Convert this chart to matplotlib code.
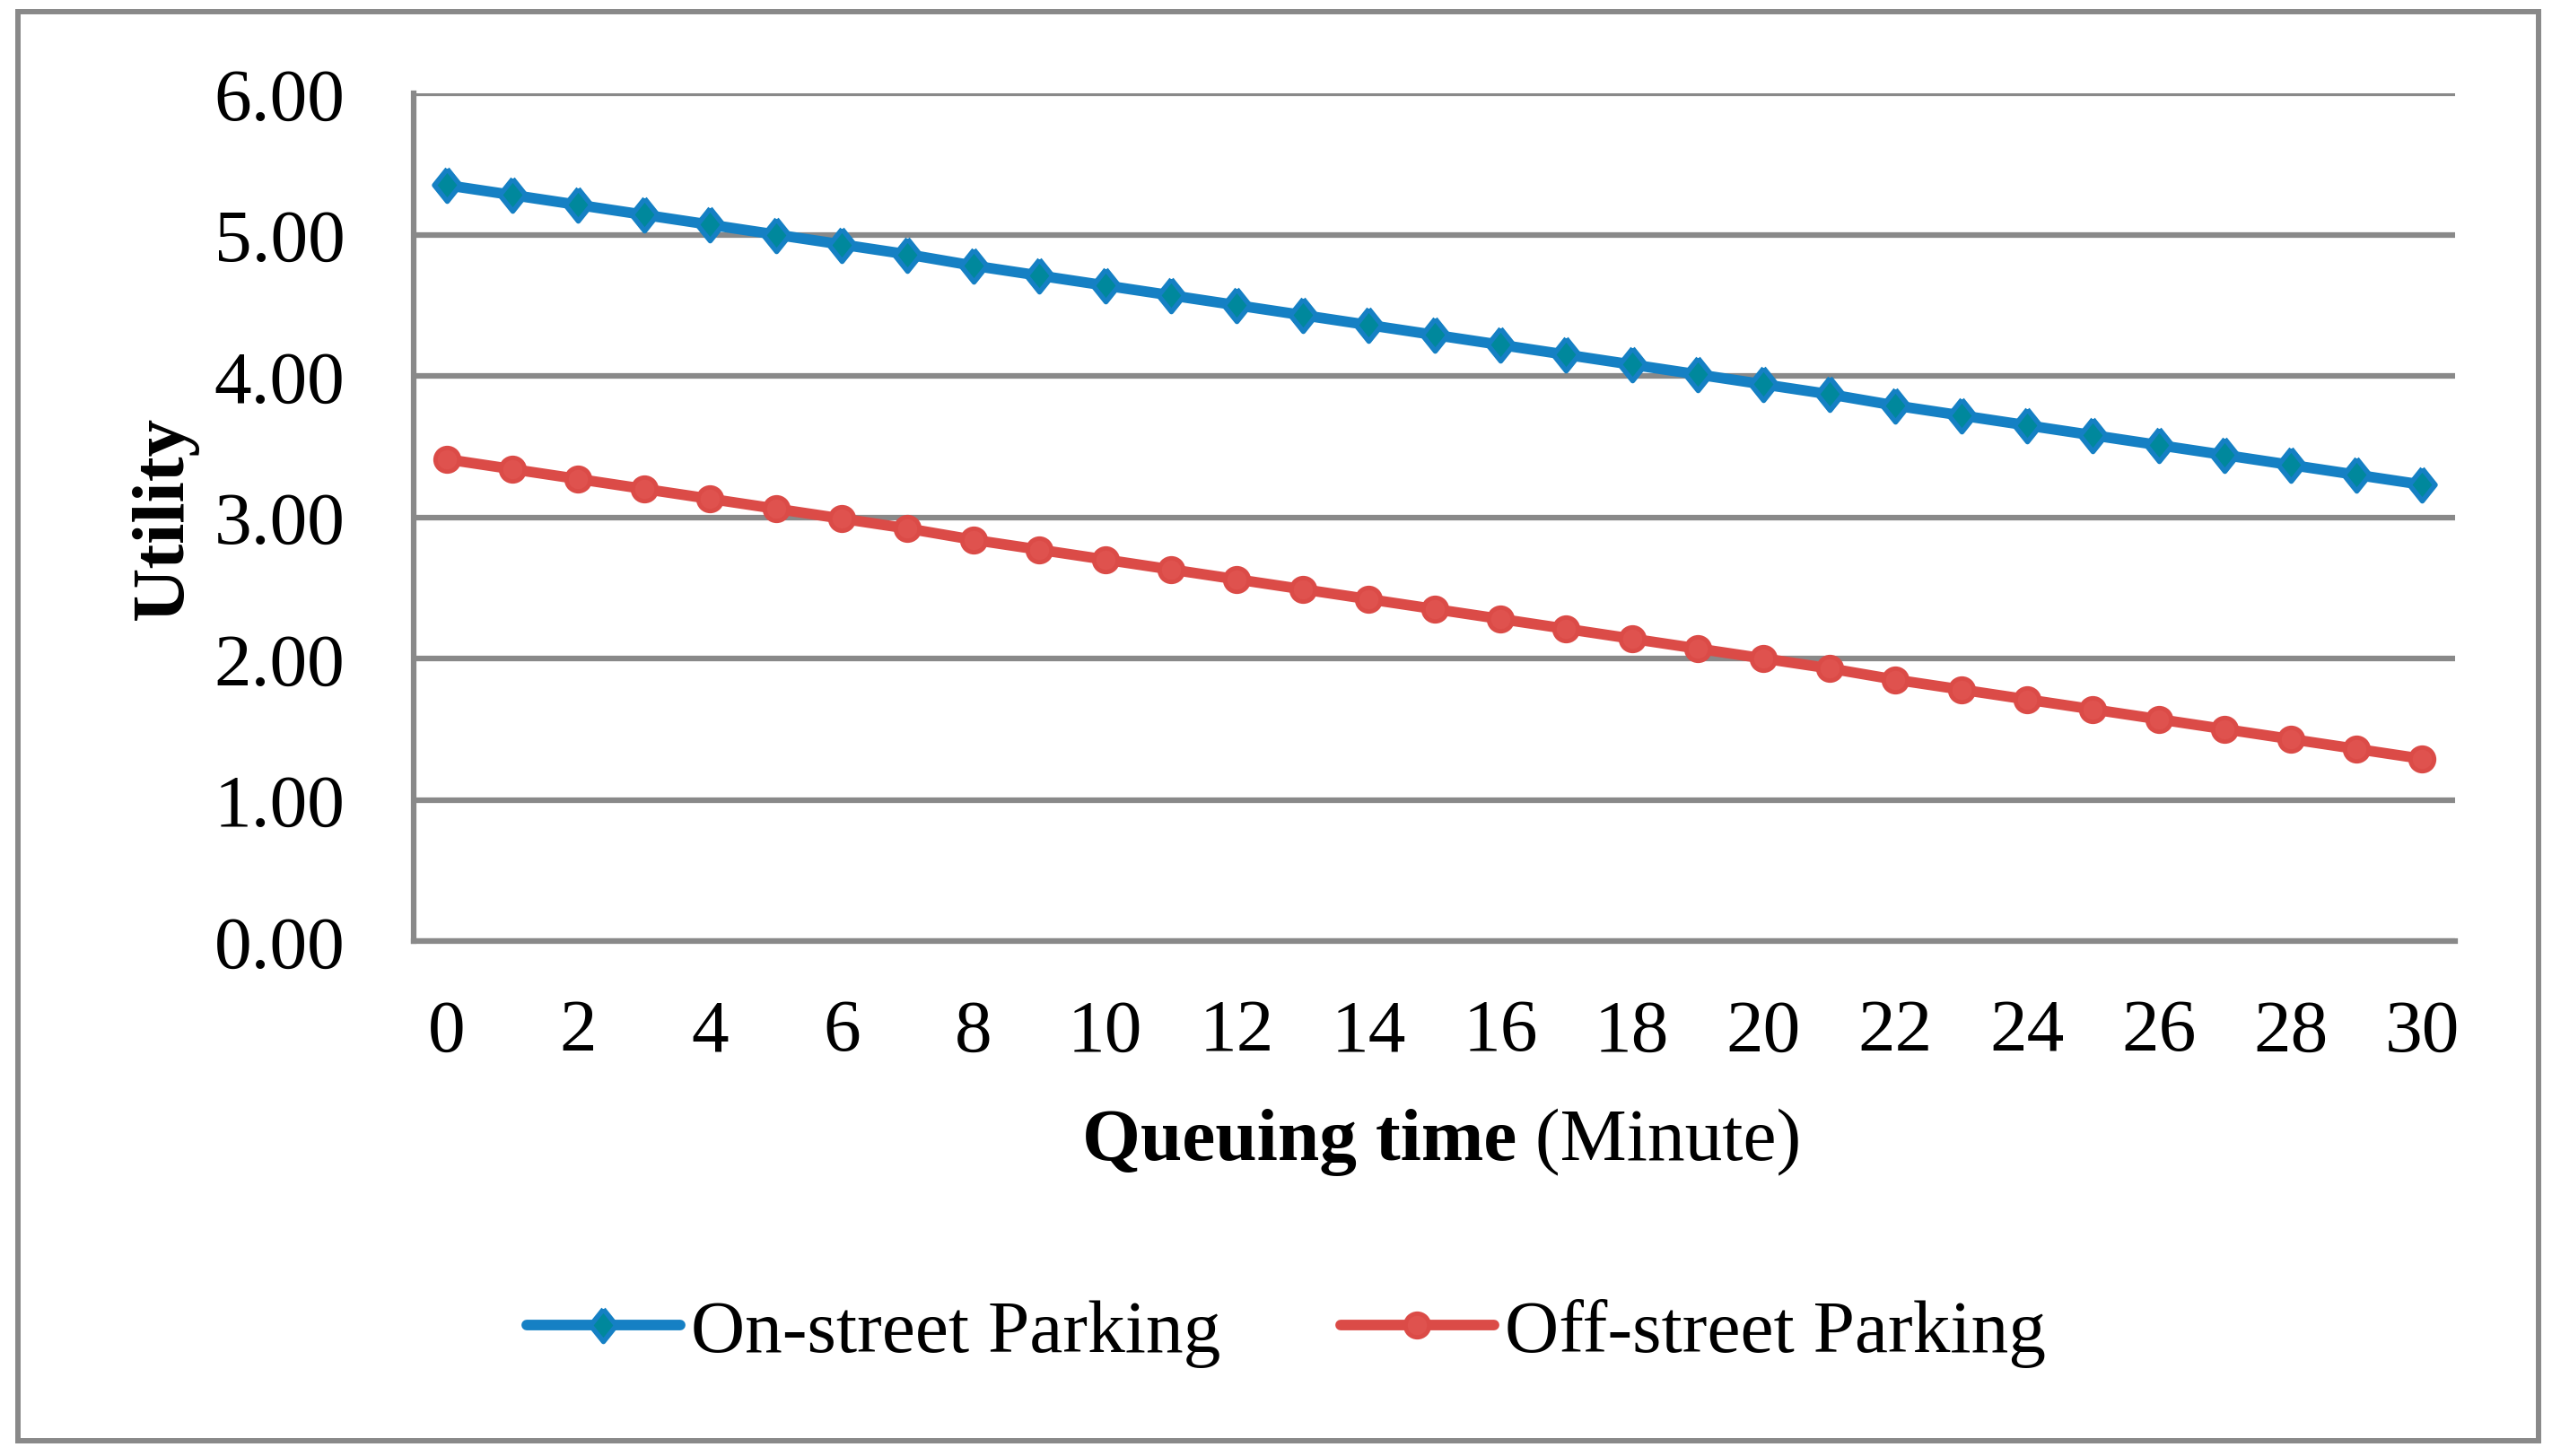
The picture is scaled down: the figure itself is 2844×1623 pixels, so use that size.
import matplotlib
matplotlib.use("Agg")
import matplotlib.pyplot as plt
from matplotlib.patches import Rectangle

queuing_time = list(range(0, 31))
on_street = [5.35, 5.28, 5.21, 5.14, 5.07, 5.00, 4.93, 4.86, 4.78, 4.71, 4.64,
             4.57, 4.50, 4.43, 4.36, 4.29, 4.22, 4.15, 4.08, 4.01, 3.94, 3.87,
             3.79, 3.72, 3.65, 3.58, 3.51, 3.44, 3.37, 3.30, 3.23]
off_street = [3.41, 3.34, 3.27, 3.20, 3.13, 3.06, 2.99, 2.92, 2.84, 2.77, 2.70,
              2.63, 2.56, 2.49, 2.42, 2.35, 2.28, 2.21, 2.14, 2.07, 2.00, 1.93,
              1.85, 1.78, 1.71, 1.64, 1.57, 1.50, 1.43, 1.36, 1.29]
series_names = ["On-street Parking", "Off-street Parking"]
y_ticks = [0, 1, 2, 3, 4, 5, 6]
y_tick_labels = ["0.00", "1.00", "2.00", "3.00", "4.00", "5.00", "6.00"]
x_tick_labels = [str(v) for v in queuing_time[::2]]

plt.rcParams['font.family'] = ['Liberation Serif', 'DejaVu Serif']
FS = 60
GRID = "#898989"
BLUE = "#1580C4"
TEAL = "#00889C"
RED = "#DB4B47"
RED_FILL = "#DF524E"

fig = plt.figure(figsize=(28.44, 16.24), dpi=100)
fig.patch.set_facecolor("white")
ax = fig.add_axes([461 / 2844, 1 - 1050 / 1624, (2736 - 461) / 2844, (1050 - 105) / 1624])

# outer frame
fig.patches.append(Rectangle((20 / 2844, 1 - 1607 / 1624), (2829 - 20) / 2844, (1607 - 14) / 1624,
                             transform=fig.transFigure, fill=False, edgecolor=GRID, linewidth=4.3,
                             zorder=0))

diamond = [(0, 1), (0.8, 0), (0, -1), (-0.8, 0), (0, 1)]
x = list(range(len(queuing_time)))
ax.plot(x, on_street, color=BLUE, linewidth=8.5, marker=diamond, markersize=26,
        markerfacecolor=TEAL, markeredgecolor=BLUE, markeredgewidth=4,
        solid_capstyle='round', label=series_names[0], zorder=3)
ax.plot(x, off_street, color=RED, linewidth=8.5, marker='o', markersize=19,
        markerfacecolor=RED_FILL, markeredgecolor=RED, markeredgewidth=3.5,
        solid_capstyle='round', label=series_names[1], zorder=3)

ax.set_xlim(-0.5, len(queuing_time) - 0.5)
ax.set_ylim(0, 6)
ax.set_yticks(y_ticks)
ax.set_yticklabels(y_tick_labels, fontsize=FS)
ax.set_xticks(x[::2])
ax.set_xticklabels(x_tick_labels, fontsize=FS)
ax.tick_params(axis='both', length=0)
ax.tick_params(axis='y', pad=55)
ax.tick_params(axis='x', pad=46)

ax.grid(axis='y', color=GRID, linewidth=4.5, zorder=1)
ax.set_axisbelow(True)
for s in ['top', 'right']:
    ax.spines[s].set_visible(False)
for s in ['left', 'bottom']:
    ax.spines[s].set_color(GRID)
    ax.spines[s].set_linewidth(4.5)

ax.set_ylabel("Utility", fontsize=FS, fontweight='bold')
ax.yaxis.set_label_coords((221 - 461) / (2736 - 461), 0.5)

fig.text(1690 / 2844, 1 - 1274 / 1624, r"Queuing time", fontsize=FS, fontweight='bold',
         ha='right', va='center')
fig.text(1690 / 2844, 1 - 1274 / 1624, " (Minute)", fontsize=FS, ha='left', va='center')

leg = fig.legend(loc='center', bbox_to_anchor=(0.504, 1 - 1487 / 1624), ncol=2, frameon=False,
                 fontsize=FS, handlelength=2.05, handletextpad=0.15, columnspacing=1.6,
                 numpoints=1)

fig.savefig("out.png", dpi=100, facecolor="white")
